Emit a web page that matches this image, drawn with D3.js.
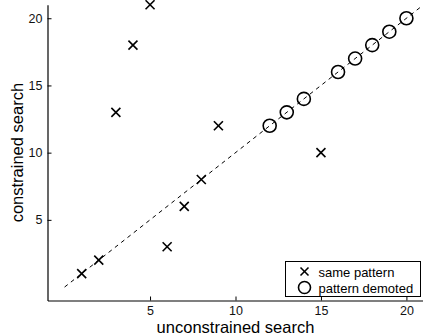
<html>
<head>
<meta charset="utf-8" />
<script src="https://cdn.jsdelivr.net/npm/d3@7"></script>
<style>
	body { margin: 0; background: white; }
	text { font-family: "Liberation Sans", Arial, sans-serif; }
</style>
</head>
<body>
<svg width="423" height="335"></svg>
<script>
// data
const crossX = [1, 2, 3, 4, 5, 6, 7, 8, 9, 15];
const crossY = [1, 2, 13, 18, 21, 3, 6, 8, 12, 10];
const circleX = [12, 13, 14, 16, 17, 18, 19, 20];
const circleY = [12, 13, 14, 16, 17, 18, 19, 20];
const xTicks = [5, 10, 15, 20];
const yTicks = [5, 10, 15, 20];
const legendLabels = ['same pattern', 'pattern demoted'];

const svg = d3.select('svg');

let xScale = d3.scaleLinear().domain([-1, 21]).range([47.5, 423.5]);
let yScale = d3.scaleLinear().domain([-1, 21]).range([300.5, 4.8]);

// diagonal reference line
svg.append('line')
	.attr('x1', xScale(0)).attr('y1', yScale(0))
	.attr('x2', xScale(21)).attr('y2', yScale(21))
	.style('stroke', 'black')
	.style('stroke-width', '1px')
	.style('stroke-dasharray', '4,4');

// axes, ticks pointing inside
let xAxis = d3.axisBottom(xScale).tickValues(xTicks).tickSizeInner(-4).tickSizeOuter(0).tickPadding(6);
svg.append('g').attr('transform', 'translate(0,300.5)').call(xAxis);

let yAxis = d3.axisLeft(yScale).tickValues(yTicks).tickSizeInner(-4).tickSizeOuter(0).tickPadding(5);
svg.append('g').attr('transform', 'translate(47.5,0)').call(yAxis);

svg.selectAll('.domain').style('stroke', 'black').style('stroke-width', '1.2px');
svg.selectAll('.tick text').style('font-size', '12.5px').style('fill', '#111');
svg.selectAll('.tick line').style('stroke', 'black');

function cross(g, size) {
	g.append('line').attr('x1', -size).attr('y1', -size).attr('x2', size).attr('y2', size);
	g.append('line').attr('x1', -size).attr('y1', size).attr('x2', size).attr('y2', -size);
	g.selectAll('line').style('stroke', 'black').style('stroke-width', '1.6px');
}

// same pattern
svg.selectAll('g.cross')
	.data(crossX).enter()
	.append('g')
	.attr('class', 'cross')
	.attr('transform', (d, i) => 'translate(' + xScale(d) + ',' + yScale(crossY[i]) + ')')
	.each(function() { cross(d3.select(this), 4.5); });

// pattern demoted
svg.selectAll('circle.demoted')
	.data(circleX).enter()
	.append('circle')
	.attr('class', 'demoted')
	.attr('cx', d => xScale(d))
	.attr('cy', (d, i) => yScale(circleY[i]))
	.attr('r', 6.5)
	.style('fill', 'none')
	.style('stroke', 'black')
	.style('stroke-width', '1.6px');

// axis labels
svg.append('text')
	.attr('x', xScale(10))
	.attr('y', 333)
	.attr('text-anchor', 'middle')
	.style('font-size', '16.5px')
	.text('unconstrained search');

svg.append('text')
	.attr('transform', 'translate(23,' + yScale(10) + ') rotate(-90)')
	.attr('text-anchor', 'middle')
	.style('font-size', '16.5px')
	.text('constrained search');

// legend
let legend = svg.append('g').attr('transform', 'translate(285.5,261.5)');
legend.append('rect')
	.attr('width', 135).attr('height', 35)
	.style('fill', 'white')
	.style('stroke', 'black')
	.style('stroke-width', '1px');

let item1 = legend.append('g').attr('transform', 'translate(19,10)');
cross(item1, 4);
let item2 = legend.append('g').attr('transform', 'translate(19,26)');
item2.append('circle').attr('r', 6).style('fill', 'none').style('stroke', 'black').style('stroke-width', '1.6px');

legend.selectAll('text.lbl')
	.data(legendLabels).enter()
	.append('text')
	.attr('class', 'lbl')
	.attr('x', 33)
	.attr('y', (d, i) => 15 + i * 16)
	.style('font-size', '13px')
	.text(d => d);
</script>
</body>
</html>
